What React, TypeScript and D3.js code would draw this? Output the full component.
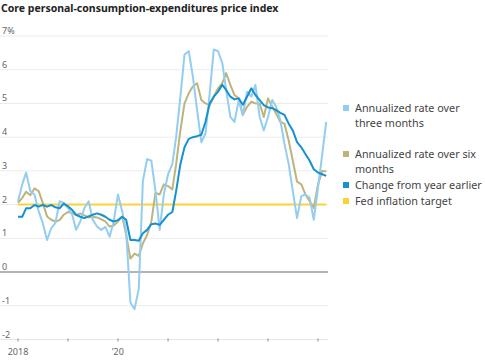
import React from "react";
import * as d3 from "d3";

const startMonth = new Date(2018, 0, 1);

const threeMonth = [
  2.1, 2.6, 2.95, 2.4, 2.3, 1.8, 1.45, 0.95, 1.3, 1.45, 2.1, 2.05,
  1.9, 1.7, 1.25, 1.5, 1.9, 2.1, 1.55, 1.35, 1.25, 1.34, 1.05, 1.5,
  2.3, 1.8, 1.2, -0.9, -1.1, -0.5, 2.7, 3.35, 3.3, 2.4, 1.25, 2.3,
  2.9, 3.2, 4.0, 5.2, 6.45, 6.55, 5.8, 4.8, 3.85, 4.1, 5.3, 6.6,
  6.55, 6.2, 5.4, 4.6, 4.45, 5.1, 4.65, 5.35, 5.2, 5.55, 4.6, 4.2,
  4.6, 5.1, 4.9, 4.5, 3.8, 3.2, 2.4, 1.6, 2.25, 2.3, 2.2, 1.55,
  2.5, 3.5, 4.45,
];

const sixMonth = [
  2.05, 2.2, 2.38, 2.28, 2.48, 2.4, 2.05, 1.65, 1.55, 1.5, 1.54, 1.7,
  1.78, 1.75, 1.69, 1.74, 1.68, 1.62, 1.64, 1.62, 1.56, 1.5, 1.35, 1.38,
  1.5, 1.65, 1.1, 0.4, 0.55, 0.48, 0.85, 1.1, 1.5, 2.35, 2.3, 2.6,
  2.55, 2.45, 3.2, 4.2, 5.0, 5.3, 5.5, 5.6, 5.1, 5.0, 4.95, 5.2,
  5.45, 5.6, 5.9, 5.55, 5.25, 5.15, 4.66, 4.9, 5.05, 5.0, 5.0, 4.6,
  5.15, 4.9, 4.7, 4.45, 4.4, 3.9, 3.3, 2.68, 2.6, 2.3, 2.1, 1.9,
  2.6, 3.0, 2.98,
];

const yearOverYear = [
  1.64, 1.64, 1.89, 1.89, 1.99, 1.94, 1.99, 1.94, 1.99, 1.92, 1.89, 2.03,
  1.95, 1.84, 1.7, 1.64, 1.6, 1.65, 1.7, 1.74, 1.7, 1.64, 1.55, 1.5,
  1.54, 1.64, 1.55, 0.95, 0.95, 0.93, 1.15, 1.25, 1.42, 1.44, 1.4, 1.55,
  1.7, 1.78, 2.4, 3.2, 3.7, 3.95, 4.0, 4.03, 4.07, 4.45, 5.0, 5.2,
  5.35, 5.55, 5.4, 5.2, 5.12, 5.15, 4.96, 5.2, 5.45, 5.25, 5.1, 4.95,
  4.88, 4.86, 4.8, 4.72, 4.66, 4.4, 4.2, 3.85, 3.7, 3.5, 3.3, 3.05,
  2.95, 2.9, 2.85,
];

const fedTarget = 2;

const yTicks = [-2, -1, 0, 1, 2, 3, 4, 5, 6, 7];
const xTickYears = [2018, 2019, 2020, 2021, 2022, 2023, 2024];
const xTickLabels: Record<number, string> = { 2018: "2018", 2020: "\u201920" };

const legendItems = [
  { lines: ["Annualized rate over", "three months"], color: "#93cdf0" },
  { lines: ["Annualized rate over six", "months"], color: "#bdb47c" },
  { lines: ["Change from year earlier"], color: "#1591d2" },
  { lines: ["Fed inflation target"], color: "#fdd236" },
];

const FONT = "'Noto Sans', sans-serif";

export default function App() {
  const W = 485;
  const H = 360;
  const months = threeMonth.map((_, i) => d3.timeMonth.offset(startMonth, i));
  const x = d3
    .scaleTime()
    .domain([new Date(2018, 0, 1), new Date(2024, 0, 1)])
    .range([18, 318]);
  const y = d3.scaleLinear().domain([-2, 7]).range([339.5, 36]);

  const line = d3
    .line<number>()
    .x((_, i) => x(months[i]))
    .y((d) => y(d))
    .curve(d3.curveLinear);

  const lastDate = months[months.length - 1];
  const legendY = [108, 154, 185, 201];

  return (
    <svg
      width={W}
      height={H}
      style={{ position: "absolute", left: 0, top: 0, background: "#fff" }}
      fontFamily={FONT}
    >
      <text x={1} y={12} fontSize={10.5} fontWeight={700} fill="#222">
        Core personal-consumption-expenditures price index
      </text>

      {yTicks.map((t) => (
        <g key={t}>
          {t !== 0 && t !== -2 && (
            <line x1={0} x2={328} y1={y(t)} y2={y(t)} stroke="#ebebeb" strokeWidth={1} />
          )}
          <text x={2} y={y(t) - 2} fontSize={9} fill="#666">
            {t === 7 ? "7%" : t < 0 ? `-${Math.abs(t)}` : t}
          </text>
        </g>
      ))}

      <line x1={0} x2={328} y1={y(-2)} y2={y(-2)} stroke="#e6e6e6" strokeWidth={1} />
      {xTickYears.map((yr) => {
        const xx = x(new Date(yr, 0, 1));
        return (
          <g key={yr}>
            <line x1={xx} x2={xx} y1={y(-2) - 1} y2={y(-2) + 2} stroke="#888" strokeWidth={1} />
            {xTickLabels[yr] && (
              <text x={xx} y={355} fontSize={9} fill="#666" textAnchor="middle">
                {xTickLabels[yr]}
              </text>
            )}
          </g>
        );
      })}

      <line
        x1={x(months[0])}
        x2={x(lastDate)}
        y1={y(fedTarget)}
        y2={y(fedTarget)}
        stroke="#fdd236"
        strokeWidth={2}
      />

      <line x1={0} x2={328} y1={y(0)} y2={y(0)} stroke="#9a9a9a" strokeWidth={1.5} />

      <path d={line(sixMonth) ?? ""} fill="none" stroke="#bdb47c" strokeWidth={2} strokeLinejoin="round" />
      <path d={line(threeMonth) ?? ""} fill="none" stroke="#93cdf0" strokeWidth={2} strokeLinejoin="round" />
      <path d={line(yearOverYear) ?? ""} fill="none" stroke="#1591d2" strokeWidth={2} strokeLinejoin="round" />

      {legendItems.map((item, i) => (
        <g key={i}>
          <rect x={343} y={legendY[i] - 3} width={6} height={6} fill={item.color} />
          {item.lines.map((l, j) => (
            <text key={j} x={355} y={legendY[i] + 4 + j * 15} fontSize={10.8} fill="#444">
              {l}
            </text>
          ))}
        </g>
      ))}
    </svg>
  );
}
